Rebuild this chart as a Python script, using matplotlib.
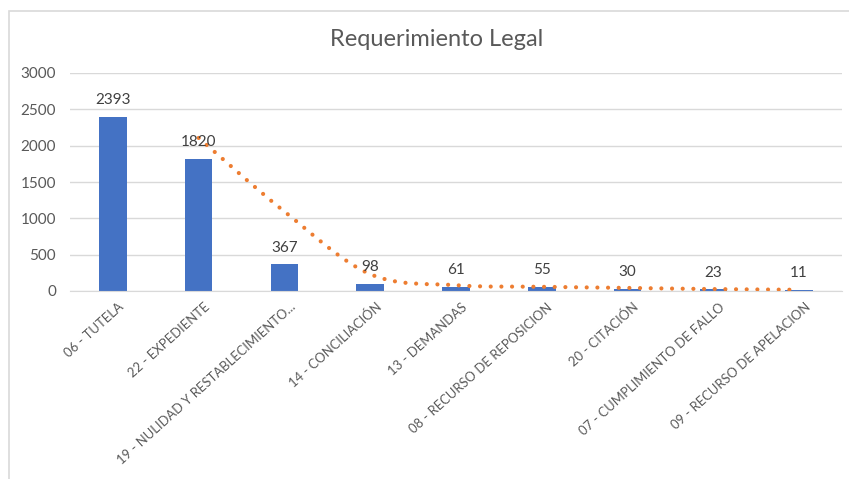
import numpy as np
import matplotlib.pyplot as plt
from matplotlib.path import Path
from matplotlib.patches import PathPatch, Rectangle

# datos del grafico
categorias = ["06 - TUTELA", "22 - EXPEDIENTE", "19 - NULIDAD Y RESTABLECIMIENTO...",
              "14 - CONCILIACIÓN", "13 - DEMANDAS", "08 - RECURSO DE REPOSICION",
              "20 - CITACIÓN", "07 - CUMPLIMIENTO DE FALLO", "09 - RECURSO DE APELACION"]
valores = [2393, 1820, 367, 98, 61, 55, 30, 23, 11]
y_ticks = [0, 500, 1000, 1500, 2000, 2500, 3000]
titulo = "Requerimiento Legal"

plt.rcParams['font.family'] = ['Lato', 'DejaVu Sans']

fig = plt.figure(figsize=(8.49, 4.79), dpi=100)
ax = fig.add_axes([70 / 849, 1 - 291 / 479, 772 / 849, 218 / 479])

x = np.arange(len(valores))
ax.bar(x, valores, width=0.32, color="#4472C4", zorder=2)
for xi, v in zip(x, valores):
    ax.annotate(str(v), (xi, v), xytext=(0, 7), textcoords="offset points",
                ha="center", va="bottom", fontsize=11, color="#404040", zorder=4)

# media movil de 2 periodos, linea suavizada como en Excel
mm = [(valores[i - 1] + valores[i]) / 2 for i in range(1, len(valores))]
px = x[1:].astype(float)
pts = np.column_stack([px, mm])
verts = [pts[0]]
codes = [Path.MOVETO]
n = len(pts)
for i in range(n - 1):
    p0 = pts[i - 1] if i > 0 else pts[i]
    p1, p2 = pts[i], pts[i + 1]
    p3 = pts[i + 2] if i + 2 < n else pts[i + 1]
    c1 = p1 + (p2 - p0) / 6
    c2 = p2 - (p3 - p1) / 6
    verts += [c1, c2, p2]
    codes += [Path.CURVE4] * 3
trend = PathPatch(Path(verts, codes), fill=False, edgecolor="#ED7D31", lw=3,
                  linestyle=(0, (0.01, 2.55)), capstyle="round", zorder=3)
ax.add_patch(trend)

ax.set_xlim(-0.5, len(valores) - 0.5)
ax.set_ylim(0, 3000)
ax.set_yticks(y_ticks)
ax.set_xticks(x + 0.06)
ax.set_xticklabels(categorias, rotation=42, ha="right", rotation_mode="anchor",
                   fontsize=9.4, color="#595959")
ax.tick_params(axis="x", length=0, pad=7)
ax.tick_params(axis="y", length=0, pad=10, labelsize=11, labelcolor="#595959")
ax.grid(axis="y", color="#D9D9D9", lw=1, zorder=0)
for s in ["left", "right", "top"]:
    ax.spines[s].set_visible(False)
ax.spines["bottom"].set_color("#D9D9D9")

fig.text(437 / 849, 1 - 40 / 479, titulo, ha="center", va="center",
         fontsize=17, color="#595959")

# borde del area del grafico
fig.patches.append(Rectangle((9 / 849, -0.2), 1.2, 1.2 - 11 / 479, fill=False,
                             edgecolor="#D9D9D9", lw=1.2, transform=fig.transFigure,
                             figure=fig))

fig.savefig("out.png", dpi=100)
